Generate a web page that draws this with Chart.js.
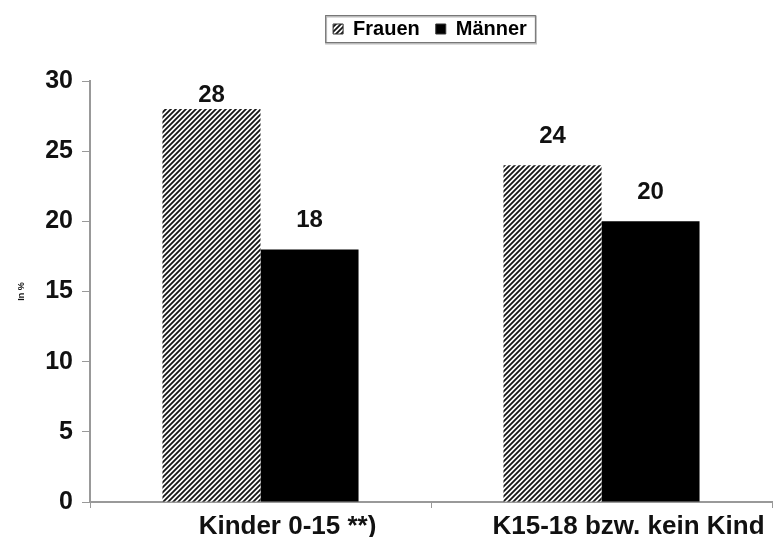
<!DOCTYPE html>
<html>
<head>
    <meta charset="utf-8">
    <title>Frauen / Männer</title>
    <script src="https://cdn.jsdelivr.net/npm/chart.js@4.4.1/dist/chart.umd.min.js"></script>
    <style>
        html, body { margin: 0; padding: 0; background: #fff; }
        #wrap { width: 779px; height: 537px; }
    </style>
</head>
<body>
    <div id="wrap">
        <canvas id="barChart" width="779" height="537"></canvas>
    </div>

    <script>
        // chart data
        const categories = ['Kinder 0-15 **)', 'K15-18 bzw. kein Kind'];
        const frauenValues = [28, 24];
        const maennerValues = [18, 20];
        const seriesNames = ['Frauen', 'Männer'];
        const yTicks = [0, 5, 10, 15, 20, 25, 30];

        // diagonal hatch for the Frauen bars
        function makeHatch() {
            const c = document.createElement('canvas');
            c.width = 5;
            c.height = 5;
            const g = c.getContext('2d');
            g.fillStyle = '#fff';
            g.fillRect(0, 0, 5, 5);
            g.strokeStyle = '#151515';
            g.lineWidth = 1.8;
            g.beginPath();
            g.moveTo(0, 5); g.lineTo(5, 0);
            g.moveTo(-1, 1); g.lineTo(1, -1);
            g.moveTo(4, 6); g.lineTo(6, 4);
            g.stroke();
            return g.createPattern(c, 'repeat');
        }

        const ctx = document.getElementById('barChart').getContext('2d');
        const hatch = makeHatch();

        // legend sits right of centre and has a frame round it
        const legendFrame = {
            id: 'legendFrame',
            beforeLayout(chart) {
                const lg = chart.legend;
                if (lg && !lg._fixed) {
                    const fit = lg.fit;
                    lg.fit = function () {
                        fit.call(this);
                        this.height = 81;
                    };
                    lg._fixed = true;
                }
            },
            afterLayout(chart) {
                const lg = chart.legend;
                lg.left += 44;
                lg.right += 44;
                lg.top += 3;
                lg.bottom += 3;
            },
            afterDraw(chart) {
                const boxes = chart.legend.legendHitBoxes;
                if (!boxes || !boxes.length) return;
                const left = Math.min(...boxes.map(b => b.left)) - 8;
                const right = Math.max(...boxes.map(b => b.left + b.width)) + 8;
                const mid = boxes[0].top + boxes[0].height / 2;
                const c = chart.ctx;
                c.save();
                c.strokeStyle = '#bbb';
                c.lineWidth = 2;
                c.strokeRect(left + 1, mid - 12.5, right - left, 27);
                c.strokeStyle = '#777';
                c.lineWidth = 1;
                c.strokeRect(left + 0.5, mid - 13.5, right - left, 27);
                c.restore();
            }
        };

        // value labels above the bars
        const valueLabels = {
            id: 'valueLabels',
            afterDatasetsDraw(chart) {
                const c = chart.ctx;
                c.save();
                c.font = 'bold 24px "Liberation Sans", Arial, sans-serif';
                c.fillStyle = '#111';
                c.textAlign = 'center';
                c.textBaseline = 'middle';
                chart.data.datasets.forEach((ds, i) => {
                    chart.getDatasetMeta(i).data.forEach((bar, j) => {
                        const y = Math.max(bar.y - 29, chart.chartArea.top + 14);
                        c.fillText(ds.data[j], bar.x, y);
                    });
                });
                c.restore();
            }
        };

        new Chart(ctx, {
            type: 'bar',
            data: {
                labels: categories,
                datasets: [{
                    label: seriesNames[0],
                    data: frauenValues,
                    backgroundColor: hatch,
                    borderWidth: 0
                }, {
                    label: seriesNames[1],
                    data: maennerValues,
                    backgroundColor: '#000',
                    borderWidth: 0
                }]
            },
            options: {
                responsive: false,
                animation: false,
                layout: { padding: { left: 0, right: 7, top: 0, bottom: 0 } },
                datasets: {
                    bar: { categoryPercentage: 0.575, barPercentage: 1 }
                },
                plugins: {
                    tooltip: { enabled: false },
                    legend: {
                        position: 'top',
                        labels: {
                            boxWidth: 10,
                            boxHeight: 10,
                            padding: 16,
                            color: '#111',
                            font: { family: '"Liberation Sans", Arial, sans-serif', size: 20, weight: 'bold' },
                            generateLabels(chart) {
                                return chart.data.datasets.map((ds, i) => ({
                                    text: ds.label,
                                    fillStyle: ds.backgroundColor,
                                    strokeStyle: '#333',
                                    lineWidth: 1,
                                    datasetIndex: i,
                                    hidden: false
                                }));
                            }
                        }
                    }
                },
                scales: {
                    x: {
                        grid: {
                            drawOnChartArea: false,
                            offset: true,
                            tickLength: 6,
                            color: '#999'
                        },
                        border: { color: '#999', width: 2 },
                        ticks: {
                            color: '#111',
                            padding: 3,
                            labelOffset: 27,
                            maxRotation: 0,
                            autoSkip: false,
                            font: { family: '"Liberation Sans", Arial, sans-serif', size: 26, weight: 'bold' }
                        },
                        afterFit(scale) { scale.height = 35; }
                    },
                    y: {
                        min: 0,
                        max: 30,
                        afterBuildTicks(scale) {
                            scale.ticks = yTicks.map(v => ({ value: v }));
                        },
                        grid: {
                            drawOnChartArea: false,
                            tickLength: 8,
                            color: '#999'
                        },
                        border: { color: '#999', width: 2 },
                        ticks: {
                            color: '#111',
                            padding: 9,
                            font: { family: '"Liberation Sans", Arial, sans-serif', size: 25, weight: 'bold' }
                        },
                        title: {
                            display: true,
                            text: 'In %',
                            color: '#111',
                            padding: { top: 16, bottom: 0 },
                            font: { family: '"Liberation Sans", Arial, sans-serif', size: 9, weight: 'bold' }
                        },
                        afterFit(scale) { scale.width = 90; }
                    }
                }
            },
            plugins: [legendFrame, valueLabels]
        });
    </script>
</body>
</html>
